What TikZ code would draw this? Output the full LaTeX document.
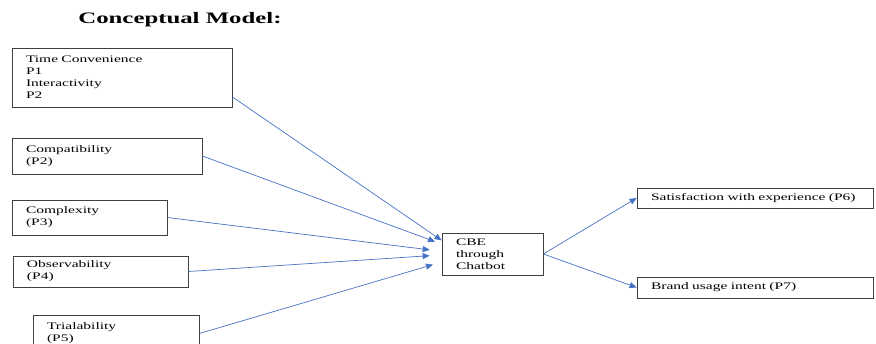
\documentclass[tikz,border=0pt]{standalone}
\usepackage{fontspec}
\setmainfont{Liberation Serif}[FakeStretch=1.55]
\usepackage{xcolor}
\usepackage{tikz}
\usetikzlibrary{arrows.meta}
\definecolor{linkblue}{RGB}{70,114,196}

\begin{document}
\begin{tikzpicture}[x=1pt,y=-1pt,
    box/.style={draw=black!75,line width=0.8pt,align=left,inner xsep=14pt,inner ysep=0pt,
        font=\fontsize{10}{12}\selectfont},
    link/.style={draw=linkblue,line width=0.7pt,-{Triangle[length=7pt,width=6pt]}}]
\useasboundingbox (0,0) rectangle (876,344);
\clip (0,0) rectangle (876,344);

\node[font=\bfseries\fontsize{16}{18}\selectfont] at (180,20) (title) {Conceptual Model:};

\node[box,text width=192pt,minimum height=59pt] at (122,77.5) (tc)
    {Time Convenience\\P1\\Interactivity\\P2};
\node[box,text width=162pt,minimum height=36pt] at (107,156) (comp)
    {Compatibility\\(P2)};
\node[box,text width=127pt,minimum height=35pt] at (89.5,217.5) (cplx)
    {Complexity\\(P3)};
\node[box,text width=147pt,minimum height=31pt] at (100.5,271.5) (obs)
    {Observability\\(P4)};
\node[box,text width=138pt,minimum height=37pt] at (116,333.5) (tri)
    {Trialability\\(P5)};

\node[box,text width=73pt,minimum height=42pt] at (492.5,254) (cbe)
    {CBE\\through\\Chatbot};

\node[box,text width=208pt,minimum height=20pt] at (755,198) (sat)
    {Satisfaction with experience (P6)};
\node[box,text width=208pt,minimum height=21pt] at (755,287.5) (brand)
    {Brand usage intent (P7)};

\draw[link] (tc.-10) -- (cbe.165);
\draw[link,shorten >=7pt] (comp.east) -- (cbe.169);
\draw[link,shorten >=12pt] (cplx.east) -- (cbe.177);
\draw[link,shorten >=12pt] (obs.east) -- (cbe.181);
\draw[link,shorten >=9pt] (tri.east) -- (cbe.189);

\draw[link] (cbe.east) -- (sat.west);
\draw[link] (cbe.east) -- (brand.west);

\end{tikzpicture}
\end{document}
